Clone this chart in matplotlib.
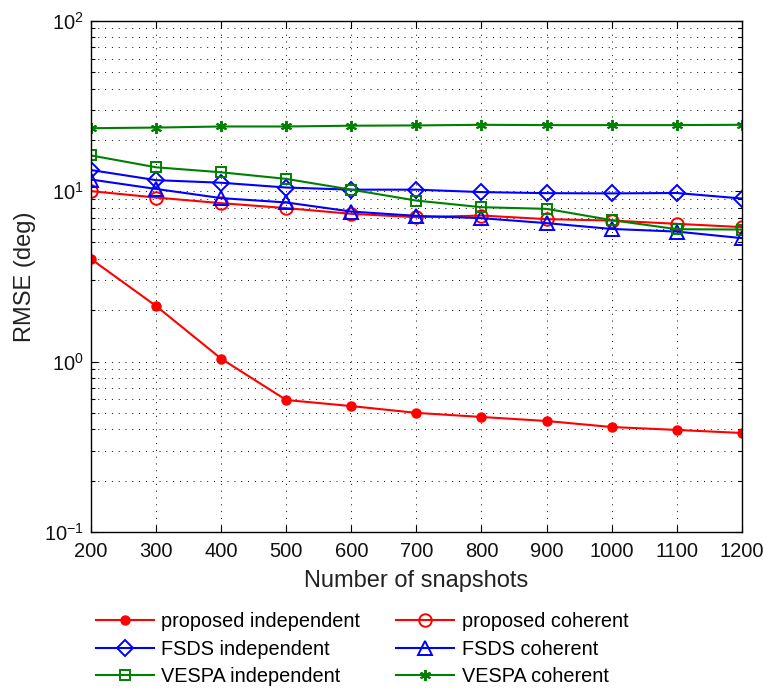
import numpy as np
import matplotlib
matplotlib.use('Agg')
import matplotlib.pyplot as plt
from matplotlib.ticker import LogLocator, NullFormatter, MultipleLocator

plt.rcParams['font.family'] = ['Liberation Sans', 'DejaVu Sans']
plt.rcParams['mathtext.fontset'] = 'custom'
plt.rcParams['mathtext.rm'] = 'Liberation Sans'
plt.rcParams['mathtext.default'] = 'regular'

snapshots = [200, 300, 400, 500, 600, 700, 800, 900, 1000, 1100, 1200]

proposed_indep = [4.0, 2.12, 1.04, 0.595, 0.548, 0.50, 0.473, 0.448, 0.413, 0.397, 0.381]
proposed_coh = [10.0, 9.17, 8.5, 7.95, 7.36, 7.03, 7.19, 6.85, 6.72, 6.43, 6.15]
fsds_indep = [13.3, 11.6, 11.2, 10.5, 10.2, 10.2, 9.87, 9.73, 9.7, 9.75, 9.05]
fsds_coh = [11.7, 10.3, 9.1, 8.58, 7.59, 7.16, 6.94, 6.49, 6.0, 5.79, 5.3]
vespa_indep = [16.2, 13.8, 12.9, 11.8, 10.2, 8.8, 8.05, 7.87, 6.76, 5.98, 5.95]
vespa_coh = [23.4, 23.6, 23.95, 23.95, 24.2, 24.3, 24.5, 24.4, 24.4, 24.4, 24.5]

GREEN = '#008000'
ASTERISK = (6, 2, 0)

def main():
	fig = plt.figure(figsize=(7.64, 6.9), dpi=100)
	ax = fig.add_axes([0.119, 0.229, 0.852, 0.741])

	lw = 1.5
	h1, = ax.semilogy(snapshots, proposed_indep, '-o', color='red', lw=lw,
		ms=6.5, mfc='red', mec='red', label='proposed independent')
	h2, = ax.semilogy(snapshots, proposed_coh, '-o', color='red', lw=lw,
		ms=9, mfc='none', mec='red', mew=1.4, label='proposed coherent')
	h3, = ax.semilogy(snapshots, fsds_indep, '-D', color='blue', lw=lw,
		ms=8, mfc='none', mec='blue', mew=1.4, label='FSDS independent')
	h4, = ax.semilogy(snapshots, fsds_coh, '-^', color='blue', lw=lw,
		ms=9.5, mfc='none', mec='blue', mew=1.4, label='FSDS coherent')
	h5, = ax.semilogy(snapshots, vespa_indep, '-s', color=GREEN, lw=lw,
		ms=7.5, mfc='none', mec=GREEN, mew=1.4, label='VESPA independent')
	h6, = ax.semilogy(snapshots, vespa_coh, '-', marker=ASTERISK, color=GREEN, lw=lw,
		ms=8, mfc=GREEN, mec=GREEN, mew=1.4, label='VESPA coherent')

	ax.set_xlim(200, 1200)
	ax.set_ylim(0.1, 100)
	ax.xaxis.set_major_locator(MultipleLocator(100))
	ax.yaxis.set_major_locator(LogLocator(base=10))
	ax.yaxis.set_minor_locator(LogLocator(base=10, subs=np.arange(2, 10)))
	ax.yaxis.set_minor_formatter(NullFormatter())

	ax.tick_params(which='both', direction='in', top=True, right=True,
		labelsize=14.5, width=0.8, labelcolor='#111111')
	ax.tick_params(which='major', length=5)
	ax.tick_params(which='minor', length=3)
	ax.tick_params(axis='x', pad=7)
	ax.tick_params(axis='y', pad=5)

	dots = (0, (1, 6))
	ax.grid(True, which='major', color='black', ls=dots, lw=0.7)
	ax.yaxis.grid(True, which='minor', color='black', ls=dots, lw=0.7)
	for s in ax.spines.values():
		s.set_linewidth(1.0)

	ax.set_xlabel('Number of snapshots', fontsize=17, color='#222222', labelpad=7)
	ax.set_ylabel('RMSE (deg)', fontsize=17, color='#222222', labelpad=6)

	handles = [h1, h3, h5, h2, h4, h6]
	fig.legend(handles=handles, loc='lower center', bbox_to_anchor=(0.474, -0.02),
		ncol=2, frameon=False, fontsize=14.3, handlelength=2.9,
		columnspacing=1.8, labelspacing=0.42, handletextpad=0.4)

	fig.savefig('out.png', dpi=100)

if __name__ == '__main__':
	main()
